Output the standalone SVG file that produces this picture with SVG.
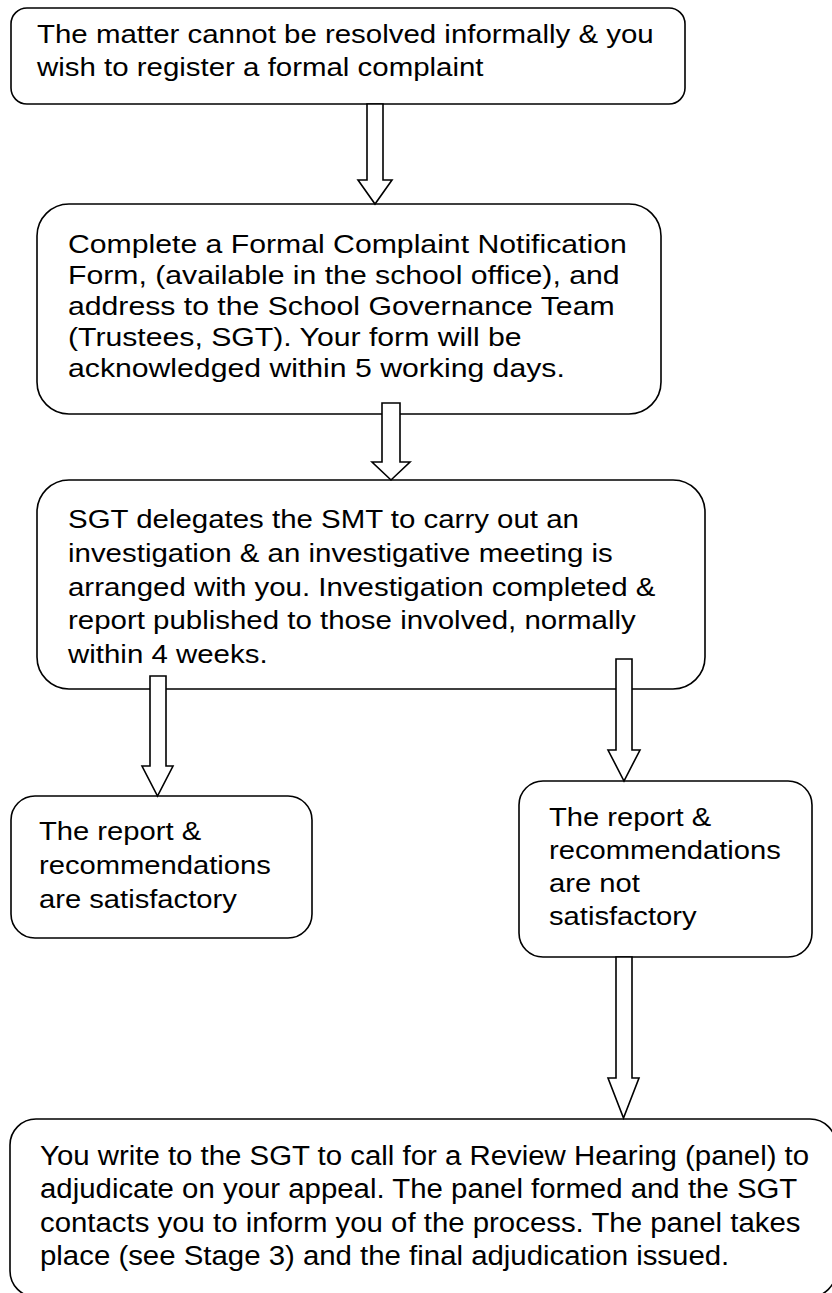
<svg xmlns="http://www.w3.org/2000/svg" width="832" height="1293" viewBox="0 0 832 1293">
  <style>
    .box { fill: #ffffff; stroke: #000000; stroke-width: 1.6; }
    .arrow { fill: #ffffff; stroke: #000000; stroke-width: 1.6; stroke-linejoin: miter; }
    .t { font-family: "Liberation Sans", Arial, sans-serif; font-size: 25.6px; fill: #000000; }
    .t6 { font-family: "Liberation Sans", Arial, sans-serif; font-size: 28px; fill: #000000; }
  </style>
  <rect width="832" height="1293" fill="#ffffff"/>

  <!-- Step boxes -->
  <g id="node-informal">
    <rect class="box" x="11" y="8" width="674" height="96" rx="16" ry="16"/>
    <g transform="translate(37,0) scale(1.15,1)">
      <text class="t"><tspan x="0" y="43">The matter cannot be resolved informally &amp; you</tspan><tspan x="0" y="76">wish to register a formal complaint</tspan></text>
    </g>
  </g>

  <g id="node-form">
    <rect class="box" x="37" y="204" width="624" height="210" rx="32" ry="32"/>
    <g transform="translate(68,0) scale(1.18,1)">
      <text class="t"><tspan x="0" y="253">Complete a Formal Complaint Notification</tspan><tspan x="0" y="284">Form, (available in the school office), and</tspan><tspan x="0" y="315">address to the School Governance Team</tspan><tspan x="0" y="346">(Trustees, SGT). Your form will be</tspan><tspan x="0" y="377">acknowledged within 5 working days.</tspan></text>
    </g>
  </g>

  <g id="node-investigation">
    <rect class="box" x="37" y="480" width="668" height="209" rx="32" ry="32"/>
    <g transform="translate(68,0) scale(1.15,1)">
      <text class="t"><tspan x="0" y="528">SGT delegates the SMT to carry out an</tspan><tspan x="0" y="562">investigation &amp; an investigative meeting is</tspan><tspan x="0" y="596">arranged with you. Investigation completed &amp;</tspan><tspan x="0" y="629">report published to those involved, normally</tspan><tspan x="0" y="663">within 4 weeks.</tspan></text>
    </g>
  </g>

  <g id="node-satisfactory">
    <rect class="box" x="11" y="796" width="301" height="142" rx="24" ry="24"/>
    <g transform="translate(39,0) scale(1.14,1)">
      <text class="t"><tspan x="0" y="840">The report &amp;</tspan><tspan x="0" y="874">recommendations</tspan><tspan x="0" y="908">are satisfactory</tspan></text>
    </g>
  </g>

  <g id="node-not-satisfactory">
    <rect class="box" x="519" y="781" width="293" height="176" rx="24" ry="24"/>
    <g transform="translate(549,0) scale(1.14,1)">
      <text class="t"><tspan x="0" y="826">The report &amp;</tspan><tspan x="0" y="859">recommendations</tspan><tspan x="0" y="892">are not</tspan><tspan x="0" y="925">satisfactory</tspan></text>
    </g>
  </g>

  <g id="node-review">
    <rect class="box" x="10" y="1119" width="826" height="178" rx="26" ry="26"/>
    <g transform="translate(40,0) scale(1.05,1)">
      <text class="t6"><tspan x="0" y="1165">You write to the SGT to call for a Review Hearing (panel) to</tspan><tspan x="0" y="1198">adjudicate on your appeal. The panel formed and the SGT</tspan><tspan x="0" y="1232">contacts you to inform you of the process. The panel takes</tspan><tspan x="0" y="1265">place (see Stage 3) and the final adjudication issued.</tspan></text>
    </g>
  </g>

  <!-- Block arrows between steps -->
  <g id="connectors">
    <polygon class="arrow" points="367,104 383,104 383,180 392,180 375,204 358,180 367,180"/>
    <polygon class="arrow" points="382,403 400,403 400,462 410,462 391,480 372,462 382,462"/>
    <polygon class="arrow" points="150,676 166,676 166,766 173,766 157.5,796 142,766 150,766"/>
    <polygon class="arrow" points="616,659 632,659 632,750 640,750 624,781 608,750 616,750"/>
    <polygon class="arrow" points="616,957 632,957 632,1078 639,1078 623.5,1118 608,1078 616,1078"/>
  </g>
</svg>
